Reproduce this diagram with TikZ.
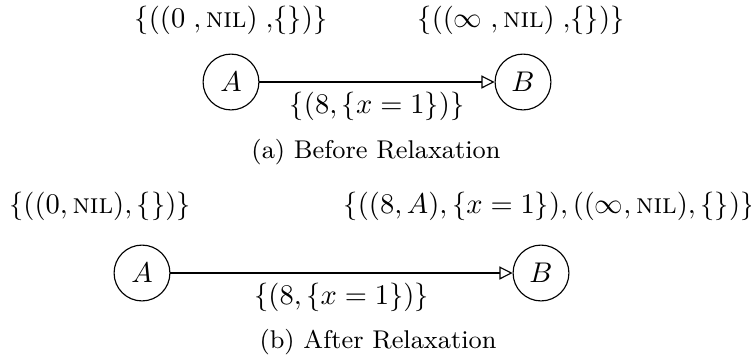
\documentclass[tikz,border=0pt]{standalone}
\usepackage{amsmath}
\usepackage{tikz}
\usetikzlibrary{arrows.meta, positioning}

\tikzset{
  vertex/.style={draw, circle, minimum size=19.6pt, inner sep=0pt},
  relax/.style={-{Triangle[open, length=4.6pt, width=4.6pt]}},
}

\begin{document}
\begin{tikzpicture}[x=0.351pt, y=-0.351pt]
  \useasboundingbox (0,0) rectangle (751,358);
  % (a) before relaxation
  \node[vertex] (a1) at (231,82) {$A$};
  \node[vertex] (b1) at (523,82) {$B$};
  \node (la1) at (231,20) {$\{((0\;,\textsc{nil})\;{,}\{\})\}$};
  \node (lb1) at (521,20) {$\{((\infty\;,\textsc{nil})\;{,}\{\})\}$};
  \draw[relax] (a1) -- (b1) node[midway, below] (w1) {$\{(8,\{x=1\})\}$};
  \node (cap1) at (376,152) {\small (a) Before Relaxation};
  % (b) after relaxation
  \node[vertex] (a2) at (142,273) {$A$};
  \node[vertex] (b2) at (541,273) {$B$};
  \node (la2) at (100,206) {$\{((0,\textsc{nil}),\{\})\}$};
  \node (lb2) at (549,206) {$\{((8,A),\{x=1\}),((\infty,\textsc{nil}),\{\})\}$};
  \draw[relax] (a2) -- (b2) node[midway, below] (w2) {$\{(8,\{x=1\})\}$};
  \node (cap2) at (378,342) {\small (b) After Relaxation};
\end{tikzpicture}
\end{document}
